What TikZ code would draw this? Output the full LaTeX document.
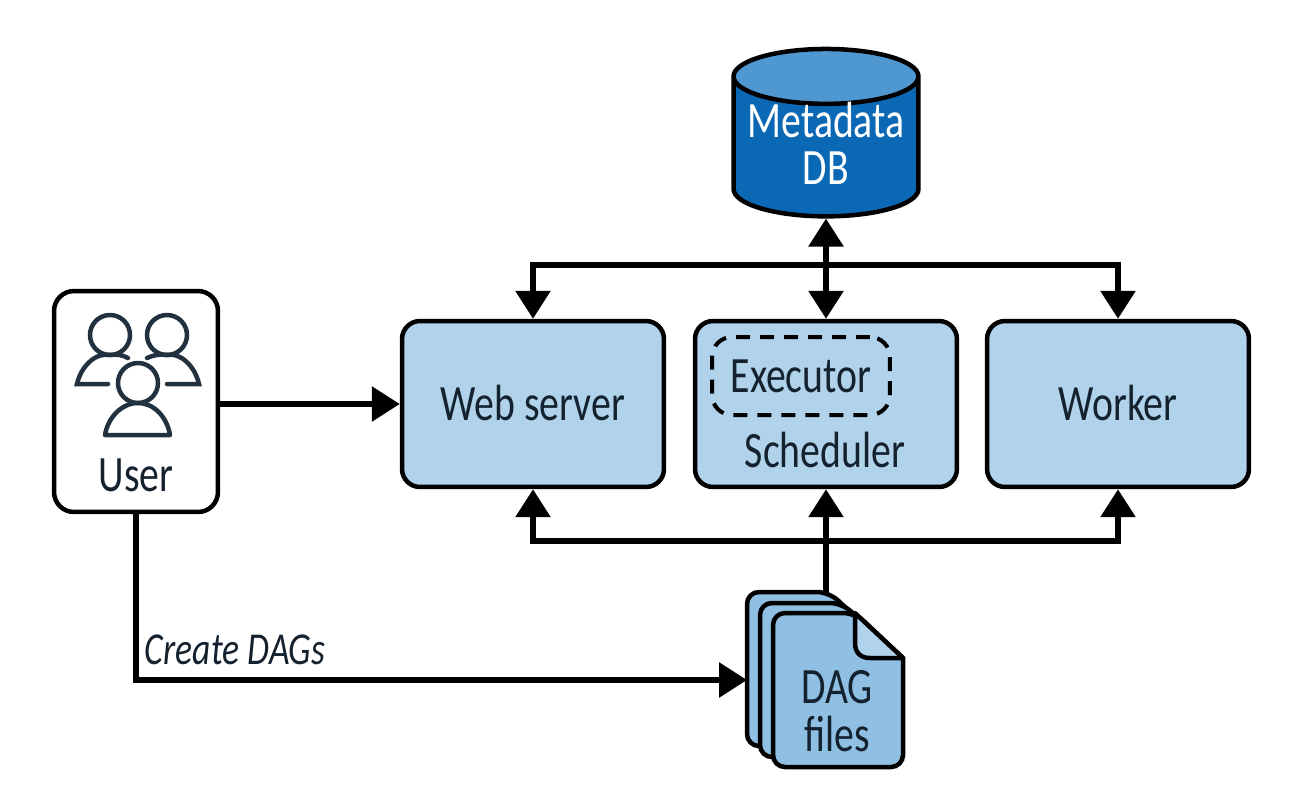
\documentclass[tikz,border=0pt]{standalone}
\usepackage{fontspec}
\setmainfont[FakeStretch=0.78]{Carlito}
\usetikzlibrary{arrows.meta, shapes.geometric}

\definecolor{boxblue}{HTML}{B0D2EA}
\definecolor{filesblue}{HTML}{8FBFE3}
\definecolor{dbblue}{HTML}{0B68B5}
\definecolor{dbtop}{HTML}{4F97D0}
\definecolor{inkblue}{HTML}{14222F}
\definecolor{iconblue}{HTML}{22313F}

\begin{document}
\begin{tikzpicture}[
    % one unit is one pixel of the layout
    x=0.02cm, y=-0.02cm,
    font=\fontsize{29}{33}\selectfont,
    text=inkblue,
    >={Triangle[length=0.56cm, width=0.68cm]},
    % Styles
    block/.style={% For the three services
        rectangle,
        rounded corners=0.36cm,
        draw=black,
        line width=0.09cm,
        fill=boxblue,
        minimum width=5.24cm,
        minimum height=3.32cm,
        },
    userbox/.style={
        rectangle,
        rounded corners=0.4cm,
        draw=black,
        line width=0.09cm,
        fill=white,
        minimum width=3.28cm,
        minimum height=4.42cm,
        },
    database/.style={
        cylinder,
        shape border rotate=90,
        aspect=0.35,
        draw=black,
        line width=0.09cm,
        cylinder uses custom fill,
        cylinder body fill=dbblue,
        cylinder end fill=dbtop,
        minimum width=3.7cm,
        minimum height=2.8cm,
        inner sep=0pt,
        align=center,
        text=white,
        },
    dashbox/.style={
        rectangle,
        rounded corners=0.4cm,
        draw=black,
        line width=0.08cm,
        dash pattern=on 0.28cm off 0.2cm,
        minimum width=3.56cm,
        minimum height=1.56cm,
        },
    page/.style={% For the DAG sheets
        draw=black,
        line width=0.09cm,
        fill=filesblue,
        rounded corners=0.24cm,
        },
    person/.style={
        draw=iconblue,
        line width=0.09cm,
        line cap=round,
        },
    link/.style={
        draw=black,
        line width=0.12cm,
        },
    ]
    \useasboundingbox (0,0) rectangle (1298,799);

    % Draw the services
    \node [block] (web_server) at (533,404) {\raisebox{1pt}{Web server}};
    \node [block] (scheduler) at (826,404) {};
    \node [block] (worker) at (1118,404) {\raisebox{1pt}{Worker}};
    \node [dashbox] (executor) at (801,376) {Executor};
    \node (scheduler_label) at (825,450) {Scheduler};

    % Draw the database
    \node [database] (metadata_db) at (826,147.5) {\raisebox{2.5pt}[\height][\depth]{Metadata}\\[-6pt]\raisebox{2.5pt}[\height][\depth]{DB}};

    % Draw the user box
    \node [userbox] (user) at (136,401.5) {};
    \node (user_label) at (136,475) {User};

    % Icon of the user box
    \draw [person] (110,335) circle [radius=20];
    \draw [person] (167,335) circle [radius=20];
    \draw [person] (138,383) circle [radius=20];
    \draw [person] (108,384) -- (77,384) .. controls (81,366) and (96,352) .. (110,355) .. controls (116,354) and (123,355) .. (128,358);
    \draw [person] (167,384) -- (199,384) .. controls (195,366) and (180,352) .. (167,355) .. controls (161,354) and (153,355) .. (147,358);
    \draw [person, line join=round] (105,435) .. controls (108,417) and (122,403) .. (138,403) .. controls (154,403) and (167,417) .. (170,435) -- cycle;

    % Free ends of the connectors
    \coordinate (bus_top) at (826,265);
    \coordinate (bus_bottom) at (826,541);
    \coordinate (dag_top) at (826,596);
    \coordinate (dag_west) at (747,680);
    \coordinate (user_corner) at (136,680);

    % Connect all
    \draw [<->, link] (metadata_db.south) -- (scheduler.north);
    \draw [->, link] (bus_top) -| (web_server.north);
    \draw [->, link] (bus_top) -| (worker.north);
    \draw [->, link] (user.east |- web_server) -- (web_server.west);
    \draw [->, link] (bus_bottom) -| (web_server.south);
    \draw [->, link] (bus_bottom) -| (worker.south);
    \draw [->, link] (dag_top) -- (scheduler.south);
    \draw [->, link] (user.south -| user_corner) -- (user_corner) -- (dag_west);
    \node [font=\fontsize{26}{30}\selectfont\itshape] (create_label) at (235,650) {Create DAGs};

    % Draw the sheets, back to front
    \foreach \dx/\dy in {-26/-21, -13/-10, 0/0} {
        \draw [page, shift={(\dx*0.02cm,-\dy*0.02cm)}]
            (773,767) -- (773,613) -- (855,613) [sharp corners] -- (903,658) [rounded corners=0.24cm] -- (903,767) -- cycle;
    }
    \draw [line width=0.09cm, fill=boxblue, line join=round]
        (855,613) -- (903,658) -- (870,658) .. controls (860,658) and (855,652) .. (855,643) -- cycle;
    \node [align=center] (dag_files) at (837,711) {DAG\\[-6pt]files};
\end{tikzpicture}
\end{document}
